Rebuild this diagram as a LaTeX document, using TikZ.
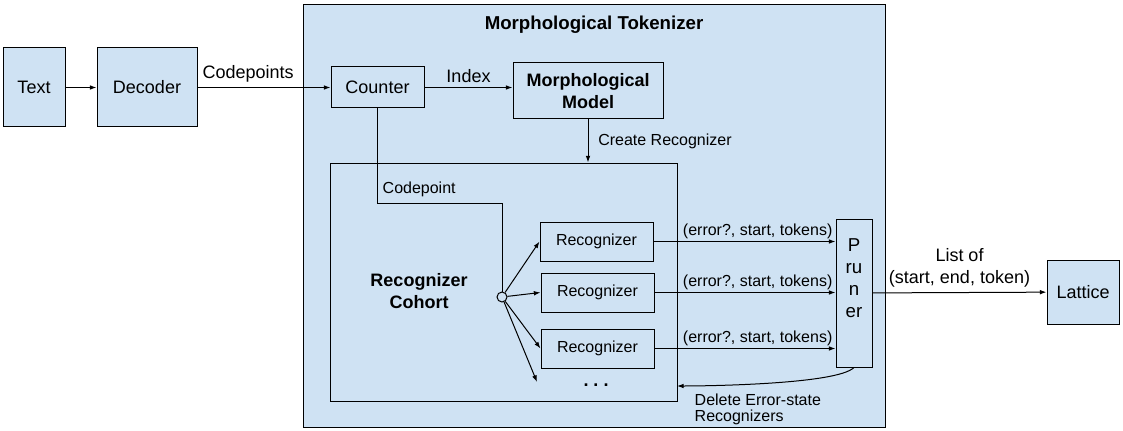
\documentclass[tikz,border=0pt]{standalone}
\usepackage{fontspec}
\setmainfont{Liberation Sans}
\usetikzlibrary{positioning,arrows.meta}
\definecolor{boxblue}{HTML}{CFE2F3}

\begin{document}
\begin{tikzpicture}[x=0.75pt,y=-0.75pt,
  big/.style={font=\fontsize{13.5}{16.5}\selectfont},
  bold/.style={font=\fontsize{13.5}{16}\selectfont\bfseries},
  small/.style={font=\fontsize{12}{12}\selectfont},
  box/.style={draw,fill=boxblue,line width=0.75pt,big,align=center,inner sep=0pt},
  wbox/.style={draw,line width=0.75pt,small,inner sep=0pt},
  arr/.style={-{Latex[length=5pt,width=3.5pt]},line width=0.75pt}]
\useasboundingbox (0,0) rectangle (1123,431);
\node[box,minimum width=436.5pt,minimum height=316.5pt] (tok) at (594,216) {};
\node[bold,font=\fontsize{14}{16}\selectfont\bfseries] (title) at (594,25) {Morphological Tokenizer};
\node[box,minimum width=46.5pt,minimum height=59.25pt] (txt) at (34,87.5) {Text};
\node[box,minimum width=75pt,minimum height=59.25pt] (dec) at (147,87.5) {Decoder};
\node[box,minimum width=69.75pt,minimum height=30.75pt] (cnt) at (377.5,87.5) {Counter};
\node[box,bold,minimum width=112.5pt,minimum height=42pt] (mod) at (588,91) {Morphological\\Model};
\node[draw,line width=0.75pt,minimum width=260.25pt,minimum height=178.5pt] (coh) at (503.5,282) {};
\node[bold,align=center] (cohlbl) at (419,291) {Recognizer\\Cohort};
\node[draw,circle,line width=0.75pt,minimum size=7.5pt,inner sep=0pt] (hub) at (502,297) {};
\node[wbox,minimum width=84.75pt,minimum height=29.25pt] (r1) at (596.5,241.5) {Recognizer};
\node[wbox,minimum width=84.75pt,minimum height=29.25pt] (r2) at (597.5,292.5) {Recognizer};
\node[wbox,minimum width=84.75pt,minimum height=29.25pt] (r3) at (597.5,348.5) {Recognizer};
\node[bold,anchor=base] (dots) at (596,386) {.\ .\ .};
\node[draw,line width=0.75pt,minimum width=27pt,minimum height=111pt] (pr) at (854,293) {};
\node[big,font=\fontsize{14}{16.5}\selectfont,align=center] (prlbl) at (854,278) {P\\ru\\n\\er};
\node[box,minimum width=54pt,minimum height=48pt] (lat) at (1083,292) {Lattice};
\node[small,anchor=west] (cdlbl) at (378,189) {Codepoint};
\node[small,anchor=north west,align=left] (dellbl) at (690,389) {Delete Error-state\\Recognizers};
\coordinate (bend) at (502,203);
\coordinate (more) at (537,382);
\coordinate (del) at (677,386);
% main line
\draw[arr] (txt) -- (dec);
\draw[arr] (dec) -- node[big,above,pos=0.38] (cplbl) {Codepoints} (cnt);
\draw[arr] (cnt.east) -- node[big,above] (idxlbl) {Index} (cnt.east -| mod.west);
\draw[arr] (mod.south) -- node[small,right=4pt] (crlbl) {Create Recognizer} (mod.south |- coh.north);
\draw[line width=0.75pt] (cnt) |- (bend) -- (hub);
% fan out
\draw[arr] (hub) -- (r1.west);
\draw[arr] (hub) -- (r2.west);
\draw[arr] (hub) -- (r3.west);
\draw[arr] (hub) -- (more);
\draw[arr] (r1) -- node[small,above left,pos=1,inner sep=2pt] {(error?, start, tokens)} (r1 -| pr.west);
\draw[arr] (r2) -- node[small,above left,pos=1,inner sep=2pt] {(error?, start, tokens)} (r2 -| pr.west);
\draw[arr] (r3) -- node[small,above left,pos=1,inner sep=2pt] {(error?, start, tokens)} (r3 -| pr.west);
\draw[arr] (pr.south) to[out=-135,in=0,looseness=0.35] (del);
\draw[arr] (pr) -- node[big,above,align=center] (lstlbl) {List of\\(start, end, token)} (lat);
\end{tikzpicture}
\end{document}
